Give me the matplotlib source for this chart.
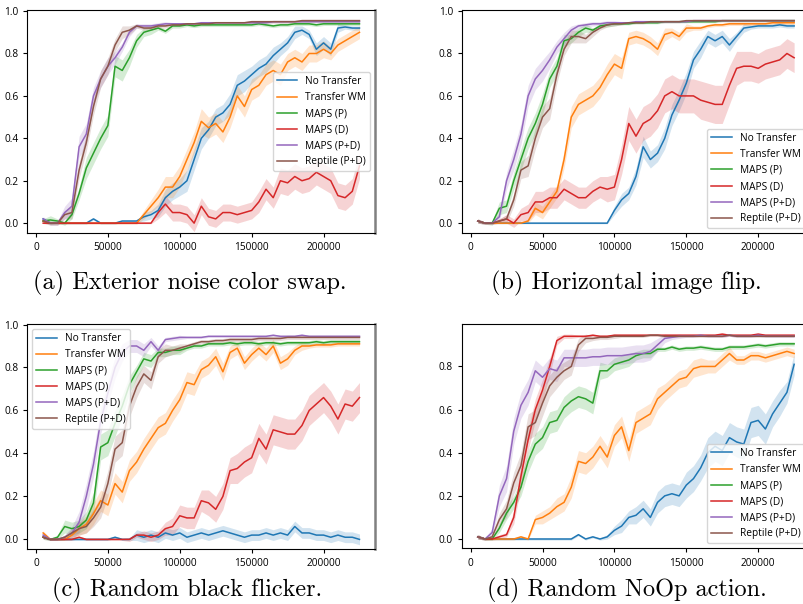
import numpy as np
import matplotlib
matplotlib.use('Agg')
import matplotlib.pyplot as plt

plt.rcParams['font.family'] = ['Open Sans', 'DejaVu Sans']

# passos de treino (eixo x)
passos = list(range(5000, 225001, 5000))

nomes = ['No Transfer', 'Transfer WM', 'MAPS (P)', 'MAPS (D)', 'MAPS (P+D)', 'Reptile (P+D)']
cores = ['#1f77b4', '#ff7f0e', '#2ca02c', '#d62728', '#9467bd', '#8c564b']

# ---------------- (a) Exterior noise color swap ----------------
a_nt = [0.02, 0.0, 0.0, 0.0, 0.0, 0.0, 0.0, 0.02, 0.0, 0.0, 0.0, 0.01, 0.01, 0.01,
        0.03, 0.04, 0.06, 0.12, 0.15, 0.17, 0.2, 0.3, 0.4, 0.44, 0.5, 0.52, 0.56, 0.65, 0.67, 0.7,
        0.73, 0.75, 0.79, 0.82, 0.85, 0.9, 0.91, 0.89, 0.82, 0.85, 0.82, 0.92, 0.925, 0.92, 0.92]
a_tw = [0.01] + [0.0]*13 + \
       [0.04, 0.08, 0.12, 0.17, 0.17, 0.22, 0.3, 0.38, 0.48, 0.45, 0.47, 0.43, 0.5, 0.6, 0.55, 0.63,
        0.65, 0.7, 0.72, 0.7, 0.76, 0.78, 0.76, 0.8, 0.8, 0.82, 0.8, 0.84, 0.86, 0.88, 0.9]
a_mp = [0.01, 0.015, 0.01, 0.0, 0.04, 0.14, 0.26, 0.33, 0.4, 0.46, 0.74, 0.72, 0.78, 0.86, 0.9,
        0.91, 0.92, 0.905, 0.93, 0.93,
        0.935, 0.93, 0.935, 0.935, 0.935, 0.935, 0.935, 0.935, 0.935, 0.935, 0.94, 0.935, 0.93,
        0.935, 0.935, 0.94, 0.94, 0.94, 0.935, 0.94, 0.94, 0.94, 0.94, 0.94, 0.94]
a_md = [0.0]*16 + \
       [0.05, 0.09, 0.05, 0.05, 0.04, 0.0, 0.08, 0.03, 0.02, 0.05, 0.05, 0.04, 0.05, 0.06, 0.1,
        0.16, 0.12, 0.2, 0.19, 0.22, 0.2, 0.21, 0.24, 0.22, 0.2, 0.13, 0.12, 0.15, 0.27]
a_mpd = [0.02, 0.0, 0.0, 0.05, 0.08, 0.36, 0.42, 0.6, 0.68, 0.74, 0.78, 0.83, 0.9, 0.93, 0.93,
         0.93, 0.935, 0.94,
         0.94, 0.94, 0.94, 0.94, 0.945, 0.945, 0.945, 0.945, 0.945, 0.945, 0.945, 0.945, 0.945,
         0.945, 0.95, 0.95, 0.95, 0.95, 0.95, 0.95, 0.95, 0.95, 0.95, 0.95, 0.95, 0.95, 0.95]
a_rep = [0.01, 0.0, 0.0, 0.04, 0.05, 0.25, 0.38, 0.55, 0.68, 0.74, 0.84, 0.9, 0.91, 0.93, 0.92,
         0.92, 0.93, 0.93,
         0.935, 0.935, 0.94, 0.94, 0.94, 0.94, 0.945, 0.945, 0.945, 0.945, 0.945, 0.95, 0.95,
         0.95, 0.95, 0.95, 0.95, 0.95, 0.955, 0.955, 0.955, 0.955, 0.955, 0.955, 0.955, 0.955, 0.955]

a_nt_sd = [0.005]*14 + [0.02, 0.02, 0.03, 0.04, 0.04, 0.04, 0.05, 0.05, 0.05, 0.04, 0.04, 0.04,
                        0.05, 0.05, 0.05, 0.04, 0.04, 0.04, 0.04, 0.03, 0.03, 0.03, 0.02, 0.02,
                        0.03, 0.03, 0.03, 0.02, 0.01, 0.01, 0.01]
a_tw_sd = [0.005]*14 + [0.02, 0.03, 0.04, 0.05, 0.05, 0.05, 0.05, 0.05, 0.06, 0.05, 0.05, 0.05,
                        0.05, 0.05, 0.05, 0.05, 0.05, 0.05, 0.05, 0.05, 0.04, 0.04, 0.04, 0.04,
                        0.04, 0.04, 0.03, 0.03, 0.03, 0.03, 0.03]
a_mp_sd = [0.01, 0.02, 0.01, 0.01, 0.02, 0.03, 0.05, 0.05, 0.05, 0.05, 0.05, 0.05, 0.04, 0.03,
           0.02, 0.02, 0.01, 0.01, 0.01, 0.01] + [0.008]*25
a_md_sd = [0.003]*16 + [0.03, 0.04, 0.04, 0.04, 0.04, 0.04, 0.04, 0.04, 0.04, 0.04, 0.04, 0.04,
                        0.04, 0.04, 0.05, 0.05, 0.05, 0.06, 0.06, 0.06, 0.06, 0.06, 0.06, 0.06,
                        0.06, 0.06, 0.06, 0.06, 0.06]
a_mpd_sd = [0.01, 0.01, 0.01, 0.03, 0.04, 0.05, 0.05, 0.04, 0.04, 0.04, 0.03, 0.02, 0.02, 0.01,
            0.01, 0.01, 0.01, 0.01] + [0.006]*27
a_rep_sd = [0.01, 0.01, 0.01, 0.02, 0.03, 0.04, 0.04, 0.04, 0.04, 0.04, 0.03, 0.03, 0.02, 0.01,
            0.01, 0.01, 0.01, 0.01] + [0.006]*27

# ---------------- (b) Horizontal image flip ----------------
b_nt = [0.01] + [0.0]*18 + \
       [0.06, 0.11, 0.14, 0.22, 0.36, 0.3, 0.33, 0.4, 0.51, 0.58, 0.66, 0.77, 0.82, 0.88, 0.86,
        0.88, 0.84, 0.88, 0.92, 0.925, 0.93, 0.93, 0.93, 0.935, 0.93, 0.93]
b_tw = [0.01] + [0.0]*6 + \
       [0.01, 0.07, 0.05, 0.1, 0.15, 0.3, 0.5, 0.56, 0.58, 0.6, 0.64, 0.7, 0.75, 0.73, 0.87, 0.88,
        0.87, 0.85, 0.82, 0.89, 0.9, 0.88, 0.92, 0.92, 0.92, 0.93, 0.935, 0.935, 0.94, 0.94, 0.94,
        0.94, 0.94, 0.94, 0.945, 0.945, 0.945, 0.945]
b_mp = [0.01, 0.0, 0.0, 0.07, 0.08, 0.2, 0.3, 0.4, 0.47, 0.56, 0.68, 0.74, 0.86, 0.87, 0.9, 0.92,
        0.91, 0.93, 0.935, 0.94,
        0.94, 0.94, 0.945, 0.945, 0.945, 0.945, 0.95, 0.95, 0.95, 0.95, 0.95, 0.95, 0.95, 0.95,
        0.955, 0.955, 0.955, 0.955, 0.955, 0.955, 0.955, 0.955, 0.955, 0.955, 0.955]
b_md = [0.01, 0.0, 0.0, 0.01, 0.02, 0.0, 0.04, 0.05, 0.1, 0.1, 0.12, 0.12, 0.16, 0.14, 0.12,
        0.12, 0.15, 0.17, 0.16, 0.17,
        0.3, 0.47, 0.41, 0.47, 0.49, 0.53, 0.6, 0.62, 0.6, 0.6, 0.6, 0.58, 0.57, 0.56, 0.56, 0.65,
        0.73, 0.74, 0.74, 0.73, 0.75, 0.76, 0.77, 0.8, 0.78]
b_mpd = [0.01, 0.0, 0.0, 0.03, 0.2, 0.3, 0.42, 0.6, 0.68, 0.72, 0.77, 0.83, 0.87, 0.91, 0.93,
         0.935, 0.94, 0.94, 0.945, 0.945,
         0.945, 0.945, 0.95, 0.95, 0.95, 0.95, 0.95, 0.95, 0.95, 0.95, 0.955, 0.955, 0.955, 0.955,
         0.955, 0.955, 0.955, 0.955, 0.955, 0.955, 0.955, 0.955, 0.955, 0.955, 0.955]
b_rep = [0.01, 0.0, 0.0, 0.01, 0.02, 0.11, 0.25, 0.27, 0.4, 0.5, 0.54, 0.7, 0.82, 0.88, 0.88,
         0.87, 0.9, 0.92, 0.935, 0.94,
         0.94, 0.945, 0.945, 0.945, 0.95, 0.95, 0.95, 0.95, 0.95, 0.955, 0.955, 0.955, 0.955,
         0.955, 0.955, 0.955, 0.955, 0.955, 0.955, 0.955, 0.955, 0.955, 0.955, 0.955, 0.955]

b_nt_sd = [0.003]*19 + [0.02, 0.03, 0.03, 0.04, 0.05, 0.04, 0.04, 0.05, 0.05, 0.05, 0.05, 0.04,
                        0.04, 0.03, 0.03, 0.03, 0.03, 0.02, 0.02, 0.01, 0.01, 0.01, 0.01, 0.01,
                        0.01, 0.01]
b_tw_sd = [0.003]*7 + [0.01, 0.03, 0.03, 0.03, 0.03, 0.04, 0.05, 0.05, 0.05, 0.05, 0.05, 0.05,
                       0.05, 0.05, 0.03, 0.03, 0.03, 0.03, 0.03, 0.03, 0.02, 0.02, 0.02, 0.01,
                       0.01] + [0.008]*13
b_mp_sd = [0.01, 0.005, 0.01, 0.03, 0.03, 0.04, 0.05, 0.05, 0.05, 0.05, 0.04, 0.04, 0.03, 0.02,
           0.02, 0.02, 0.01, 0.01, 0.01, 0.01] + [0.005]*25
b_md_sd = [0.01, 0.005, 0.005, 0.01, 0.02, 0.02, 0.03, 0.04, 0.05, 0.05, 0.05, 0.05, 0.05, 0.05,
           0.05, 0.05, 0.05, 0.05, 0.06, 0.06,
           0.07, 0.08, 0.08, 0.08, 0.08, 0.08, 0.08, 0.08, 0.08, 0.08, 0.08, 0.09, 0.09, 0.09,
           0.09, 0.09, 0.08, 0.07, 0.07, 0.07, 0.07, 0.07, 0.07, 0.07, 0.07]
b_mpd_sd = [0.01, 0.005, 0.005, 0.02, 0.04, 0.05, 0.05, 0.05, 0.05, 0.05, 0.04, 0.03, 0.03, 0.02,
            0.01, 0.01, 0.01, 0.01, 0.01, 0.01] + [0.005]*25
b_rep_sd = [0.01, 0.005, 0.005, 0.01, 0.02, 0.03, 0.04, 0.05, 0.05, 0.05, 0.05, 0.04, 0.03, 0.03,
            0.03, 0.02, 0.02, 0.01, 0.01, 0.01] + [0.005]*25

# ---------------- (c) Random black flicker ----------------
c_nt = [0.01, 0.0, 0.0, 0.0, 0.0, 0.0, 0.0, 0.0, 0.0, 0.0, 0.01, 0.0, 0.0,
        0.02, 0.01, 0.02, 0.01, 0.03, 0.02, 0.03, 0.01, 0.02, 0.03, 0.02, 0.03, 0.04, 0.03, 0.02,
        0.01, 0.02, 0.02, 0.03, 0.02, 0.03, 0.02, 0.06, 0.03, 0.03, 0.02, 0.02, 0.01, 0.02, 0.01,
        0.01, 0.0]
c_tw = [0.03, 0.0, 0.0, 0.0, 0.02, 0.05, 0.07, 0.12, 0.18, 0.16, 0.26, 0.22, 0.32, 0.36, 0.42,
        0.47, 0.52, 0.54, 0.6, 0.65, 0.73, 0.72, 0.79, 0.81, 0.85, 0.78, 0.87, 0.89, 0.82, 0.86,
        0.89, 0.86, 0.9, 0.82, 0.84, 0.88, 0.9, 0.9, 0.905, 0.905, 0.905, 0.91, 0.91, 0.91, 0.91]
c_mp = [0.01, 0.0, 0.01, 0.06, 0.05, 0.06, 0.09, 0.17, 0.43, 0.45, 0.54, 0.62, 0.72, 0.78, 0.84,
        0.83, 0.87, 0.87, 0.88, 0.88,
        0.89, 0.9, 0.9, 0.91, 0.91, 0.91, 0.915, 0.91, 0.915, 0.915, 0.91, 0.915, 0.915, 0.91,
        0.915, 0.915, 0.915, 0.915, 0.92, 0.915, 0.92, 0.92, 0.92, 0.92, 0.92]
c_md = [0.01, 0.0, 0.0, 0.0, 0.0, 0.01, 0.0, 0.0, 0.0, 0.0, 0.0, 0.0,
        0.0, 0.02, 0.02, 0.01, 0.02, 0.05, 0.06, 0.11, 0.1, 0.1, 0.18, 0.17, 0.14, 0.2, 0.32, 0.33,
        0.36, 0.38, 0.47, 0.42, 0.51, 0.5, 0.49, 0.49, 0.53, 0.6, 0.63, 0.66, 0.62, 0.56, 0.63,
        0.62, 0.66]
c_mpd = [0.02, 0.0, 0.0, 0.01, 0.03, 0.08, 0.2, 0.35, 0.55, 0.68, 0.8, 0.87, 0.9, 0.9, 0.88,
         0.92, 0.88, 0.93, 0.935, 0.94,
         0.94, 0.94, 0.94, 0.945, 0.945, 0.945, 0.945, 0.945, 0.945, 0.945, 0.945, 0.945, 0.95,
         0.945, 0.945, 0.945, 0.95, 0.945, 0.945, 0.945, 0.945, 0.945, 0.945, 0.945, 0.945]
c_rep = [0.01, 0.0, 0.0, 0.01, 0.03, 0.05, 0.06, 0.1, 0.15, 0.26, 0.42, 0.45, 0.62, 0.71, 0.77,
         0.74, 0.85, 0.88, 0.88, 0.89,
         0.9, 0.91, 0.92, 0.92, 0.925, 0.925, 0.93, 0.93, 0.93, 0.93, 0.935, 0.935, 0.935, 0.935,
         0.94, 0.94, 0.94, 0.94, 0.94, 0.94, 0.94, 0.94, 0.94, 0.94, 0.94]

c_nt_sd = [0.005]*13 + [0.025]*32
c_tw_sd = [0.01, 0.005, 0.005, 0.005, 0.02, 0.03, 0.04, 0.05, 0.05, 0.05, 0.05, 0.05, 0.05, 0.05,
           0.05, 0.05, 0.05, 0.05, 0.05, 0.05, 0.05, 0.05, 0.04, 0.04, 0.04, 0.04, 0.03, 0.03,
           0.03, 0.03, 0.03, 0.03, 0.03, 0.03, 0.03, 0.02, 0.02, 0.01, 0.01, 0.01] + [0.01]*5
c_mp_sd = [0.01, 0.005, 0.01, 0.03, 0.03, 0.03, 0.04, 0.05, 0.06, 0.06, 0.06, 0.05, 0.04, 0.03,
           0.03, 0.03, 0.02, 0.02, 0.02, 0.02] + [0.01]*25
c_md_sd = [0.005]*12 + [0.01, 0.01, 0.02, 0.02, 0.02, 0.03, 0.04, 0.05, 0.05, 0.05, 0.05, 0.06,
                        0.06, 0.06, 0.06, 0.07, 0.07, 0.07, 0.07, 0.07, 0.07, 0.07, 0.07, 0.07,
                        0.07, 0.07, 0.07, 0.07, 0.07, 0.07, 0.07, 0.07, 0.07]
c_mpd_sd = [0.01, 0.005, 0.005, 0.01, 0.03, 0.05, 0.06, 0.06, 0.06, 0.05, 0.05, 0.04, 0.03, 0.03,
            0.03, 0.02, 0.02, 0.01, 0.01, 0.01] + [0.005]*25
c_rep_sd = [0.01, 0.005, 0.005, 0.01, 0.02, 0.03, 0.03, 0.04, 0.05, 0.06, 0.06, 0.06, 0.05, 0.05,
            0.04, 0.04, 0.03, 0.03, 0.02, 0.02] + [0.01]*25

# ---------------- (d) Random NoOp action ----------------
d_nt = [0.01, 0.0, 0.0, 0.0, 0.0, 0.0, 0.0, 0.0, 0.0, 0.0, 0.0, 0.0, 0.0, 0.0, 0.02, 0.0, 0.01,
        0.0,
        0.01, 0.04, 0.06, 0.1, 0.11, 0.14, 0.1, 0.17, 0.2, 0.21, 0.2, 0.25, 0.28, 0.33, 0.4, 0.43,
        0.41, 0.47, 0.45, 0.44, 0.54, 0.55, 0.51, 0.58, 0.63, 0.68, 0.81]
d_tw = [0.01, 0.0, 0.0, 0.0, 0.0, 0.0, 0.01, 0.0,
        0.09, 0.1, 0.12, 0.15, 0.17, 0.24, 0.36, 0.35, 0.38, 0.43, 0.38, 0.48, 0.52, 0.41, 0.54,
        0.56, 0.58, 0.65, 0.68, 0.71, 0.74, 0.75, 0.79, 0.8, 0.8, 0.8, 0.83, 0.86, 0.83, 0.83,
        0.85, 0.85, 0.84, 0.85, 0.86, 0.87, 0.86]
d_mp = [0.01, 0.0, 0.0, 0.05, 0.12, 0.17, 0.24, 0.36, 0.44, 0.47, 0.54, 0.55, 0.61, 0.64, 0.66,
        0.65, 0.63, 0.78, 0.78, 0.81,
        0.82, 0.83, 0.85, 0.86, 0.86, 0.88, 0.88, 0.89, 0.88, 0.885, 0.885, 0.89, 0.885, 0.88,
        0.88, 0.89, 0.89, 0.89, 0.895, 0.9, 0.895, 0.9, 0.905, 0.905, 0.905]
d_md = [0.01, 0.0, 0.0, 0.01, 0.02, 0.1, 0.29, 0.46, 0.6, 0.69, 0.8, 0.92, 0.94, 0.94,
        0.94, 0.94, 0.945, 0.94, 0.94, 0.945, 0.945, 0.945, 0.945, 0.945, 0.945, 0.945, 0.945,
        0.945, 0.945, 0.945, 0.945, 0.945, 0.945, 0.945, 0.95, 0.945, 0.945, 0.945, 0.945, 0.95,
        0.945, 0.945, 0.945, 0.945, 0.945]
d_mpd = [0.01, 0.0, 0.03, 0.2, 0.28, 0.5, 0.62, 0.68, 0.78, 0.75, 0.79, 0.78, 0.84, 0.84, 0.84,
         0.84, 0.845, 0.845, 0.85, 0.85, 0.85, 0.855, 0.86, 0.86, 0.87, 0.9, 0.93, 0.935, 0.94,
         0.94, 0.94, 0.945, 0.94, 0.94, 0.94, 0.945, 0.94, 0.94, 0.94, 0.945, 0.94, 0.94, 0.94,
         0.94, 0.94]
d_rep = [0.01, 0.0, 0.01, 0.09, 0.14, 0.26, 0.34, 0.52, 0.54, 0.63, 0.71, 0.75, 0.78, 0.8, 0.9,
         0.93, 0.93, 0.935, 0.935, 0.94,
         0.94, 0.94, 0.94, 0.94, 0.945, 0.945, 0.94, 0.94, 0.94, 0.94, 0.94, 0.94, 0.94, 0.94,
         0.94, 0.945, 0.94, 0.94, 0.94, 0.94, 0.94, 0.94, 0.94, 0.94, 0.94]

d_nt_sd = [0.005]*18 + [0.01, 0.02, 0.03, 0.03, 0.04, 0.04, 0.04, 0.05, 0.05, 0.05, 0.05, 0.06,
                        0.06, 0.06, 0.07, 0.07, 0.07, 0.07, 0.07, 0.07, 0.07, 0.07, 0.07, 0.06,
                        0.06, 0.05, 0.05]
d_tw_sd = [0.005]*8 + [0.02, 0.03, 0.03, 0.04, 0.04, 0.05, 0.05, 0.05, 0.05, 0.05, 0.05, 0.05,
                       0.05, 0.05, 0.05, 0.05, 0.05, 0.05, 0.04, 0.04, 0.04, 0.04, 0.04, 0.04,
                       0.03, 0.03, 0.03, 0.03, 0.02, 0.02, 0.02, 0.02, 0.02, 0.02, 0.02, 0.02,
                       0.02]
d_mp_sd = [0.01, 0.005, 0.005, 0.02, 0.03, 0.03, 0.04, 0.05, 0.05, 0.05, 0.05, 0.05, 0.05, 0.05,
           0.05, 0.05, 0.05, 0.04, 0.03, 0.03, 0.03, 0.03, 0.02, 0.02, 0.02] + [0.01]*20
d_md_sd = [0.01, 0.005, 0.005, 0.01, 0.01, 0.03, 0.05, 0.05, 0.05, 0.05, 0.04, 0.02, 0.01,
           0.01] + [0.005]*31
d_mpd_sd = [0.01, 0.005, 0.02, 0.05, 0.06, 0.06, 0.06, 0.06, 0.05, 0.05, 0.05, 0.05, 0.04, 0.04,
            0.04, 0.04, 0.04, 0.04, 0.04, 0.04, 0.04, 0.04, 0.04, 0.04, 0.04, 0.03, 0.02, 0.01,
            0.01] + [0.005]*16
d_rep_sd = [0.01, 0.005, 0.01, 0.03, 0.04, 0.05, 0.06, 0.06, 0.06, 0.06, 0.05, 0.05, 0.04, 0.04,
            0.03, 0.02, 0.01, 0.01, 0.01, 0.01] + [0.005]*25

paineis = [
    ([a_nt, a_tw, a_mp, a_md, a_mpd, a_rep],
     [a_nt_sd, a_tw_sd, a_mp_sd, a_md_sd, a_mpd_sd, a_rep_sd],
     '(a) Exterior noise color swap.', 'center right', (-0.048, 1.005)),
    ([b_nt, b_tw, b_mp, b_md, b_mpd, b_rep],
     [b_nt_sd, b_tw_sd, b_mp_sd, b_md_sd, b_mpd_sd, b_rep_sd],
     '(b) Horizontal image flip.', 'lower right', (-0.048, 1.005)),
    ([c_nt, c_tw, c_mp, c_md, c_mpd, c_rep],
     [c_nt_sd, c_tw_sd, c_mp_sd, c_md_sd, c_mpd_sd, c_rep_sd],
     '(c) Random black flicker.', 'upper left', (-0.046, 1.001)),
    ([d_nt, d_tw, d_mp, d_md, d_mpd, d_rep],
     [d_nt_sd, d_tw_sd, d_mp_sd, d_md_sd, d_mpd_sd, d_rep_sd],
     '(d) Random NoOp action.', 'lower right', (-0.044, 0.997)),
]

# posições dos eixos (fração da figura) e das legendas
posicoes = [[0.034, 0.6137, 0.4328, 0.3697],
            [0.5746, 0.6137, 0.4328, 0.3697],
            [0.034, 0.0906, 0.4328, 0.3725],
            [0.5746, 0.0919, 0.4328, 0.3717]]
legendas_xy = [(190/804, 1-289/604), (626/804, 1-289/604),
               (187/804, 1-596/604), (627/804, 1-596/604)]

fig = plt.figure(figsize=(8.04, 6.04), dpi=100)
x = np.array(passos)

for i, (medias, desvios, titulo, loc, ylim) in enumerate(paineis):
    ax = fig.add_axes(posicoes[i])
    for m, s, nome, cor in zip(medias, desvios, nomes, cores):
        m = np.array(m)
        s = np.array(s)
        ax.fill_between(x, m - s, m + s, color=cor, alpha=0.2, linewidth=0)
        ax.plot(x, m, color=cor, linewidth=1.1, label=nome)
    ax.set_xlim(-6000, 236000)
    ax.set_ylim(ylim)
    ax.set_xticks([0, 50000, 100000, 150000, 200000])
    ax.tick_params(labelsize=7.3, length=3)
    ax.spines['right'].set_color('#808080')
    ax.spines['right'].set_linewidth(1.8)
    ax.legend(loc=loc, fontsize=7.3)
    fig.text(legendas_xy[i][0], legendas_xy[i][1], titulo, ha='center', va='baseline',
             family=['cmr10', 'DejaVu Serif'], fontsize=17.5)

plt.savefig('out.png', dpi=100)
plt.close()
